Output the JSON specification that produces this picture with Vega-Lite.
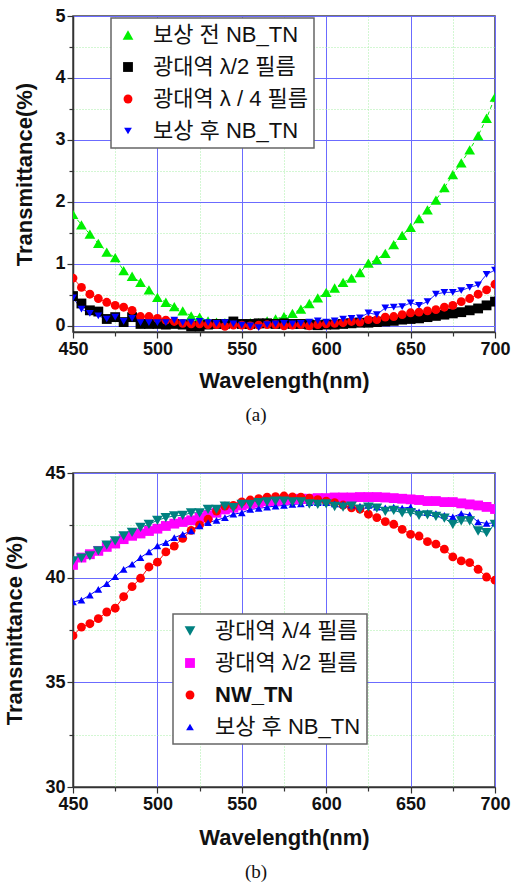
{
  "$schema": "https://vega.github.io/schema/vega-lite/v6.json",
  "background": "white",
  "padding": {"left": 3, "top": 6, "right": 0, "bottom": 0},
  "spacing": 37,
  "resolve": {
    "scale": {"color": "independent", "shape": "independent", "size": "independent", "strokeDash": "independent"},
    "legend": {"color": "independent", "shape": "independent"}
  },
  "config": {
    "font": "Liberation Sans",
    "view": {"stroke": "#444", "strokeWidth": 1.5},
    "axis": {
      "labelFont": "Liberation Sans",
      "labelFontWeight": "bold",
      "labelFontSize": 18,
      "labelColor": "#111",
      "labelPadding": 2,
      "labelFlush": false,
      "titleFont": "Liberation Sans",
      "titleFontWeight": "bold",
      "titleFontSize": 22,
      "titleColor": "#111",
      "domainColor": "#333",
      "domainWidth": 1.5,
      "tickColor": "#333",
      "tickWidth": 1.2,
      "grid": true,
      "gridWidth": 1
    },
    "legend": {
      "orient": "none",
      "labelFont": "Liberation Sans, Noto Sans CJK KR",
      "labelFontSize": 22,
      "labelColor": "#111",
      "labelOffset": 14,
      "symbolSize": 50,
      "symbolStrokeWidth": 0,
      "rowPadding": 10,
      "padding": 6,
      "fillColor": "white",
      "strokeColor": "#666",
      "strokeWidth": 1.5
    },
    "title": {
      "orient": "bottom",
      "font": "Liberation Serif",
      "fontSize": 19,
      "fontWeight": "normal",
      "color": "#111",
      "dx": -28
    }
  },
  "datasets": {
    "panelA": [
      {"series": "보상 전 NB_TN", "nm": 450, "T": 1.80},
      {"series": "보상 전 NB_TN", "nm": 455, "T": 1.63},
      {"series": "보상 전 NB_TN", "nm": 460, "T": 1.48},
      {"series": "보상 전 NB_TN", "nm": 465, "T": 1.33},
      {"series": "보상 전 NB_TN", "nm": 470, "T": 1.19},
      {"series": "보상 전 NB_TN", "nm": 475, "T": 1.10},
      {"series": "보상 전 NB_TN", "nm": 480, "T": 0.89},
      {"series": "보상 전 NB_TN", "nm": 485, "T": 0.80},
      {"series": "보상 전 NB_TN", "nm": 490, "T": 0.70},
      {"series": "보상 전 NB_TN", "nm": 495, "T": 0.58},
      {"series": "보상 전 NB_TN", "nm": 500, "T": 0.46},
      {"series": "보상 전 NB_TN", "nm": 505, "T": 0.38},
      {"series": "보상 전 NB_TN", "nm": 510, "T": 0.31},
      {"series": "보상 전 NB_TN", "nm": 515, "T": 0.24},
      {"series": "보상 전 NB_TN", "nm": 520, "T": 0.16},
      {"series": "보상 전 NB_TN", "nm": 525, "T": 0.14},
      {"series": "보상 전 NB_TN", "nm": 530, "T": 0.08},
      {"series": "보상 전 NB_TN", "nm": 535, "T": 0.06},
      {"series": "보상 전 NB_TN", "nm": 540, "T": 0.05},
      {"series": "보상 전 NB_TN", "nm": 545, "T": 0.04},
      {"series": "보상 전 NB_TN", "nm": 550, "T": 0.04},
      {"series": "보상 전 NB_TN", "nm": 555, "T": 0.05},
      {"series": "보상 전 NB_TN", "nm": 560, "T": 0.05},
      {"series": "보상 전 NB_TN", "nm": 565, "T": 0.08},
      {"series": "보상 전 NB_TN", "nm": 570, "T": 0.11},
      {"series": "보상 전 NB_TN", "nm": 575, "T": 0.15},
      {"series": "보상 전 NB_TN", "nm": 580, "T": 0.20},
      {"series": "보상 전 NB_TN", "nm": 585, "T": 0.27},
      {"series": "보상 전 NB_TN", "nm": 590, "T": 0.36},
      {"series": "보상 전 NB_TN", "nm": 595, "T": 0.45},
      {"series": "보상 전 NB_TN", "nm": 600, "T": 0.54},
      {"series": "보상 전 NB_TN", "nm": 605, "T": 0.61},
      {"series": "보상 전 NB_TN", "nm": 610, "T": 0.70},
      {"series": "보상 전 NB_TN", "nm": 615, "T": 0.77},
      {"series": "보상 전 NB_TN", "nm": 620, "T": 0.86},
      {"series": "보상 전 NB_TN", "nm": 625, "T": 1.01},
      {"series": "보상 전 NB_TN", "nm": 630, "T": 1.07},
      {"series": "보상 전 NB_TN", "nm": 635, "T": 1.17},
      {"series": "보상 전 NB_TN", "nm": 640, "T": 1.31},
      {"series": "보상 전 NB_TN", "nm": 645, "T": 1.46},
      {"series": "보상 전 NB_TN", "nm": 650, "T": 1.59},
      {"series": "보상 전 NB_TN", "nm": 655, "T": 1.73},
      {"series": "보상 전 NB_TN", "nm": 660, "T": 1.87},
      {"series": "보상 전 NB_TN", "nm": 665, "T": 2.03},
      {"series": "보상 전 NB_TN", "nm": 670, "T": 2.23},
      {"series": "보상 전 NB_TN", "nm": 675, "T": 2.44},
      {"series": "보상 전 NB_TN", "nm": 680, "T": 2.63},
      {"series": "보상 전 NB_TN", "nm": 685, "T": 2.84},
      {"series": "보상 전 NB_TN", "nm": 690, "T": 3.07},
      {"series": "보상 전 NB_TN", "nm": 695, "T": 3.35},
      {"series": "보상 전 NB_TN", "nm": 700, "T": 3.69},
      {"series": "광대역 λ/2 필름", "nm": 450, "T": 0.48},
      {"series": "광대역 λ/2 필름", "nm": 455, "T": 0.36},
      {"series": "광대역 λ/2 필름", "nm": 460, "T": 0.25},
      {"series": "광대역 λ/2 필름", "nm": 465, "T": 0.23},
      {"series": "광대역 λ/2 필름", "nm": 470, "T": 0.11},
      {"series": "광대역 λ/2 필름", "nm": 475, "T": 0.14},
      {"series": "광대역 λ/2 필름", "nm": 480, "T": 0.06},
      {"series": "광대역 λ/2 필름", "nm": 485, "T": 0.14},
      {"series": "광대역 λ/2 필름", "nm": 490, "T": 0.03},
      {"series": "광대역 λ/2 필름", "nm": 495, "T": 0.03},
      {"series": "광대역 λ/2 필름", "nm": 500, "T": 0.03},
      {"series": "광대역 λ/2 필름", "nm": 505, "T": 0.02},
      {"series": "광대역 λ/2 필름", "nm": 510, "T": 0.03},
      {"series": "광대역 λ/2 필름", "nm": 515, "T": 0.02},
      {"series": "광대역 λ/2 필름", "nm": 520, "T": -0.01},
      {"series": "광대역 λ/2 필름", "nm": 525, "T": -0.01},
      {"series": "광대역 λ/2 필름", "nm": 530, "T": 0.02},
      {"series": "광대역 λ/2 필름", "nm": 535, "T": 0.03},
      {"series": "광대역 λ/2 필름", "nm": 540, "T": 0.03},
      {"series": "광대역 λ/2 필름", "nm": 545, "T": 0.07},
      {"series": "광대역 λ/2 필름", "nm": 550, "T": 0.03},
      {"series": "광대역 λ/2 필름", "nm": 555, "T": 0.03},
      {"series": "광대역 λ/2 필름", "nm": 560, "T": 0.04},
      {"series": "광대역 λ/2 필름", "nm": 565, "T": 0.04},
      {"series": "광대역 λ/2 필름", "nm": 570, "T": 0.03},
      {"series": "광대역 λ/2 필름", "nm": 575, "T": 0.04},
      {"series": "광대역 λ/2 필름", "nm": 580, "T": 0.03},
      {"series": "광대역 λ/2 필름", "nm": 585, "T": 0.03},
      {"series": "광대역 λ/2 필름", "nm": 590, "T": 0.02},
      {"series": "광대역 λ/2 필름", "nm": 595, "T": 0.01},
      {"series": "광대역 λ/2 필름", "nm": 600, "T": 0.02},
      {"series": "광대역 λ/2 필름", "nm": 605, "T": 0.02},
      {"series": "광대역 λ/2 필름", "nm": 610, "T": 0.03},
      {"series": "광대역 λ/2 필름", "nm": 615, "T": 0.04},
      {"series": "광대역 λ/2 필름", "nm": 620, "T": 0.05},
      {"series": "광대역 λ/2 필름", "nm": 625, "T": 0.05},
      {"series": "광대역 λ/2 필름", "nm": 630, "T": 0.06},
      {"series": "광대역 λ/2 필름", "nm": 635, "T": 0.07},
      {"series": "광대역 λ/2 필름", "nm": 640, "T": 0.08},
      {"series": "광대역 λ/2 필름", "nm": 645, "T": 0.10},
      {"series": "광대역 λ/2 필름", "nm": 650, "T": 0.11},
      {"series": "광대역 λ/2 필름", "nm": 655, "T": 0.12},
      {"series": "광대역 λ/2 필름", "nm": 660, "T": 0.14},
      {"series": "광대역 λ/2 필름", "nm": 665, "T": 0.16},
      {"series": "광대역 λ/2 필름", "nm": 670, "T": 0.18},
      {"series": "광대역 λ/2 필름", "nm": 675, "T": 0.20},
      {"series": "광대역 λ/2 필름", "nm": 680, "T": 0.22},
      {"series": "광대역 λ/2 필름", "nm": 685, "T": 0.25},
      {"series": "광대역 λ/2 필름", "nm": 690, "T": 0.28},
      {"series": "광대역 λ/2 필름", "nm": 695, "T": 0.33},
      {"series": "광대역 λ/2 필름", "nm": 700, "T": 0.39},
      {"series": "광대역 λ / 4 필름", "nm": 450, "T": 0.77},
      {"series": "광대역 λ / 4 필름", "nm": 455, "T": 0.62},
      {"series": "광대역 λ / 4 필름", "nm": 460, "T": 0.51},
      {"series": "광대역 λ / 4 필름", "nm": 465, "T": 0.44},
      {"series": "광대역 λ / 4 필름", "nm": 470, "T": 0.38},
      {"series": "광대역 λ / 4 필름", "nm": 475, "T": 0.33},
      {"series": "광대역 λ / 4 필름", "nm": 480, "T": 0.30},
      {"series": "광대역 λ / 4 필름", "nm": 485, "T": 0.25},
      {"series": "광대역 λ / 4 필름", "nm": 490, "T": 0.15},
      {"series": "광대역 λ / 4 필름", "nm": 495, "T": 0.15},
      {"series": "광대역 λ / 4 필름", "nm": 500, "T": 0.12},
      {"series": "광대역 λ / 4 필름", "nm": 505, "T": 0.09},
      {"series": "광대역 λ / 4 필름", "nm": 510, "T": 0.07},
      {"series": "광대역 λ / 4 필름", "nm": 515, "T": 0.04},
      {"series": "광대역 λ / 4 필름", "nm": 520, "T": 0.03},
      {"series": "광대역 λ / 4 필름", "nm": 525, "T": 0.03},
      {"series": "광대역 λ / 4 필름", "nm": 530, "T": 0.02},
      {"series": "광대역 λ / 4 필름", "nm": 535, "T": 0.02},
      {"series": "광대역 λ / 4 필름", "nm": 540, "T": -0.01},
      {"series": "광대역 λ / 4 필름", "nm": 545, "T": 0.01},
      {"series": "광대역 λ / 4 필름", "nm": 550, "T": 0.01},
      {"series": "광대역 λ / 4 필름", "nm": 555, "T": 0.00},
      {"series": "광대역 λ / 4 필름", "nm": 560, "T": 0.01},
      {"series": "광대역 λ / 4 필름", "nm": 565, "T": 0.02},
      {"series": "광대역 λ / 4 필름", "nm": 570, "T": 0.02},
      {"series": "광대역 λ / 4 필름", "nm": 575, "T": 0.00},
      {"series": "광대역 λ / 4 필름", "nm": 580, "T": 0.01},
      {"series": "광대역 λ / 4 필름", "nm": 585, "T": 0.02},
      {"series": "광대역 λ / 4 필름", "nm": 590, "T": 0.00},
      {"series": "광대역 λ / 4 필름", "nm": 595, "T": 0.02},
      {"series": "광대역 λ / 4 필름", "nm": 600, "T": 0.03},
      {"series": "광대역 λ / 4 필름", "nm": 605, "T": 0.04},
      {"series": "광대역 λ / 4 필름", "nm": 610, "T": 0.05},
      {"series": "광대역 λ / 4 필름", "nm": 615, "T": 0.07},
      {"series": "광대역 λ / 4 필름", "nm": 620, "T": 0.06},
      {"series": "광대역 λ / 4 필름", "nm": 625, "T": 0.10},
      {"series": "광대역 λ / 4 필름", "nm": 630, "T": 0.10},
      {"series": "광대역 λ / 4 필름", "nm": 635, "T": 0.14},
      {"series": "광대역 λ / 4 필름", "nm": 640, "T": 0.15},
      {"series": "광대역 λ / 4 필름", "nm": 645, "T": 0.18},
      {"series": "광대역 λ / 4 필름", "nm": 650, "T": 0.21},
      {"series": "광대역 λ / 4 필름", "nm": 655, "T": 0.22},
      {"series": "광대역 λ / 4 필름", "nm": 660, "T": 0.24},
      {"series": "광대역 λ / 4 필름", "nm": 665, "T": 0.26},
      {"series": "광대역 λ / 4 필름", "nm": 670, "T": 0.30},
      {"series": "광대역 λ / 4 필름", "nm": 675, "T": 0.33},
      {"series": "광대역 λ / 4 필름", "nm": 680, "T": 0.39},
      {"series": "광대역 λ / 4 필름", "nm": 685, "T": 0.44},
      {"series": "광대역 λ / 4 필름", "nm": 690, "T": 0.51},
      {"series": "광대역 λ / 4 필름", "nm": 695, "T": 0.58},
      {"series": "광대역 λ / 4 필름", "nm": 700, "T": 0.67},
      {"series": "보상 후 NB_TN", "nm": 450, "T": 0.45},
      {"series": "보상 후 NB_TN", "nm": 455, "T": 0.27},
      {"series": "보상 후 NB_TN", "nm": 460, "T": 0.20},
      {"series": "보상 후 NB_TN", "nm": 465, "T": 0.16},
      {"series": "보상 후 NB_TN", "nm": 470, "T": 0.11},
      {"series": "보상 후 NB_TN", "nm": 475, "T": 0.14},
      {"series": "보상 후 NB_TN", "nm": 480, "T": 0.07},
      {"series": "보상 후 NB_TN", "nm": 485, "T": 0.12},
      {"series": "보상 후 NB_TN", "nm": 490, "T": 0.05},
      {"series": "보상 후 NB_TN", "nm": 495, "T": 0.05},
      {"series": "보상 후 NB_TN", "nm": 500, "T": 0.05},
      {"series": "보상 후 NB_TN", "nm": 505, "T": 0.05},
      {"series": "보상 후 NB_TN", "nm": 510, "T": 0.09},
      {"series": "보상 후 NB_TN", "nm": 515, "T": 0.05},
      {"series": "보상 후 NB_TN", "nm": 520, "T": 0.06},
      {"series": "보상 후 NB_TN", "nm": 525, "T": 0.07},
      {"series": "보상 후 NB_TN", "nm": 530, "T": 0.05},
      {"series": "보상 후 NB_TN", "nm": 535, "T": 0.04},
      {"series": "보상 후 NB_TN", "nm": 540, "T": 0.05},
      {"series": "보상 후 NB_TN", "nm": 545, "T": 0.03},
      {"series": "보상 후 NB_TN", "nm": 550, "T": 0.01},
      {"series": "보상 후 NB_TN", "nm": 555, "T": 0.00},
      {"series": "보상 후 NB_TN", "nm": 560, "T": -0.03},
      {"series": "보상 후 NB_TN", "nm": 565, "T": 0.02},
      {"series": "보상 후 NB_TN", "nm": 570, "T": 0.03},
      {"series": "보상 후 NB_TN", "nm": 575, "T": 0.04},
      {"series": "보상 후 NB_TN", "nm": 580, "T": 0.03},
      {"series": "보상 후 NB_TN", "nm": 585, "T": 0.04},
      {"series": "보상 후 NB_TN", "nm": 590, "T": 0.06},
      {"series": "보상 후 NB_TN", "nm": 595, "T": 0.08},
      {"series": "보상 후 NB_TN", "nm": 600, "T": 0.06},
      {"series": "보상 후 NB_TN", "nm": 605, "T": 0.08},
      {"series": "보상 후 NB_TN", "nm": 610, "T": 0.11},
      {"series": "보상 후 NB_TN", "nm": 615, "T": 0.12},
      {"series": "보상 후 NB_TN", "nm": 620, "T": 0.13},
      {"series": "보상 후 NB_TN", "nm": 625, "T": 0.21},
      {"series": "보상 후 NB_TN", "nm": 630, "T": 0.18},
      {"series": "보상 후 NB_TN", "nm": 635, "T": 0.29},
      {"series": "보상 후 NB_TN", "nm": 640, "T": 0.30},
      {"series": "보상 후 NB_TN", "nm": 645, "T": 0.31},
      {"series": "보상 후 NB_TN", "nm": 650, "T": 0.37},
      {"series": "보상 후 NB_TN", "nm": 655, "T": 0.33},
      {"series": "보상 후 NB_TN", "nm": 660, "T": 0.39},
      {"series": "보상 후 NB_TN", "nm": 665, "T": 0.51},
      {"series": "보상 후 NB_TN", "nm": 670, "T": 0.54},
      {"series": "보상 후 NB_TN", "nm": 675, "T": 0.54},
      {"series": "보상 후 NB_TN", "nm": 680, "T": 0.57},
      {"series": "보상 후 NB_TN", "nm": 685, "T": 0.62},
      {"series": "보상 후 NB_TN", "nm": 690, "T": 0.66},
      {"series": "보상 후 NB_TN", "nm": 695, "T": 0.83},
      {"series": "보상 후 NB_TN", "nm": 700, "T": 0.90}
    ],
    "panelB": [
      {"series": "광대역 λ/2 필름", "nm": 450, "T": 40.61},
      {"series": "광대역 λ/2 필름", "nm": 455, "T": 40.96},
      {"series": "광대역 λ/2 필름", "nm": 460, "T": 41.12},
      {"series": "광대역 λ/2 필름", "nm": 465, "T": 41.28},
      {"series": "광대역 λ/2 필름", "nm": 470, "T": 41.47},
      {"series": "광대역 λ/2 필름", "nm": 475, "T": 41.63},
      {"series": "광대역 λ/2 필름", "nm": 480, "T": 41.84},
      {"series": "광대역 λ/2 필름", "nm": 485, "T": 42.00},
      {"series": "광대역 λ/2 필름", "nm": 490, "T": 42.11},
      {"series": "광대역 λ/2 필름", "nm": 495, "T": 42.23},
      {"series": "광대역 λ/2 필름", "nm": 500, "T": 42.34},
      {"series": "광대역 λ/2 필름", "nm": 505, "T": 42.47},
      {"series": "광대역 λ/2 필름", "nm": 510, "T": 42.58},
      {"series": "광대역 λ/2 필름", "nm": 515, "T": 42.66},
      {"series": "광대역 λ/2 필름", "nm": 520, "T": 42.74},
      {"series": "광대역 λ/2 필름", "nm": 525, "T": 42.87},
      {"series": "광대역 λ/2 필름", "nm": 530, "T": 42.98},
      {"series": "광대역 λ/2 필름", "nm": 535, "T": 43.10},
      {"series": "광대역 λ/2 필름", "nm": 540, "T": 43.26},
      {"series": "광대역 λ/2 필름", "nm": 545, "T": 43.34},
      {"series": "광대역 λ/2 필름", "nm": 550, "T": 43.45},
      {"series": "광대역 λ/2 필름", "nm": 555, "T": 43.53},
      {"series": "광대역 λ/2 필름", "nm": 560, "T": 43.58},
      {"series": "광대역 λ/2 필름", "nm": 565, "T": 43.66},
      {"series": "광대역 λ/2 필름", "nm": 570, "T": 43.66},
      {"series": "광대역 λ/2 필름", "nm": 575, "T": 43.71},
      {"series": "광대역 λ/2 필름", "nm": 580, "T": 43.74},
      {"series": "광대역 λ/2 필름", "nm": 585, "T": 43.77},
      {"series": "광대역 λ/2 필름", "nm": 590, "T": 43.77},
      {"series": "광대역 λ/2 필름", "nm": 595, "T": 43.80},
      {"series": "광대역 λ/2 필름", "nm": 600, "T": 43.80},
      {"series": "광대역 λ/2 필름", "nm": 605, "T": 43.83},
      {"series": "광대역 λ/2 필름", "nm": 610, "T": 43.83},
      {"series": "광대역 λ/2 필름", "nm": 615, "T": 43.83},
      {"series": "광대역 λ/2 필름", "nm": 620, "T": 43.85},
      {"series": "광대역 λ/2 필름", "nm": 625, "T": 43.85},
      {"series": "광대역 λ/2 필름", "nm": 630, "T": 43.85},
      {"series": "광대역 λ/2 필름", "nm": 635, "T": 43.83},
      {"series": "광대역 λ/2 필름", "nm": 640, "T": 43.80},
      {"series": "광대역 λ/2 필름", "nm": 645, "T": 43.77},
      {"series": "광대역 λ/2 필름", "nm": 650, "T": 43.74},
      {"series": "광대역 λ/2 필름", "nm": 655, "T": 43.71},
      {"series": "광대역 λ/2 필름", "nm": 660, "T": 43.66},
      {"series": "광대역 λ/2 필름", "nm": 665, "T": 43.66},
      {"series": "광대역 λ/2 필름", "nm": 670, "T": 43.61},
      {"series": "광대역 λ/2 필름", "nm": 675, "T": 43.61},
      {"series": "광대역 λ/2 필름", "nm": 680, "T": 43.55},
      {"series": "광대역 λ/2 필름", "nm": 685, "T": 43.50},
      {"series": "광대역 λ/2 필름", "nm": 690, "T": 43.45},
      {"series": "광대역 λ/2 필름", "nm": 695, "T": 43.38},
      {"series": "광대역 λ/2 필름", "nm": 700, "T": 43.28},
      {"series": "NW_TN", "nm": 450, "T": 37.23},
      {"series": "NW_TN", "nm": 455, "T": 37.64},
      {"series": "NW_TN", "nm": 460, "T": 37.80},
      {"series": "NW_TN", "nm": 465, "T": 38.04},
      {"series": "NW_TN", "nm": 470, "T": 38.36},
      {"series": "NW_TN", "nm": 475, "T": 38.54},
      {"series": "NW_TN", "nm": 480, "T": 39.09},
      {"series": "NW_TN", "nm": 485, "T": 39.57},
      {"series": "NW_TN", "nm": 490, "T": 39.97},
      {"series": "NW_TN", "nm": 495, "T": 40.51},
      {"series": "NW_TN", "nm": 500, "T": 40.74},
      {"series": "NW_TN", "nm": 505, "T": 41.23},
      {"series": "NW_TN", "nm": 510, "T": 41.51},
      {"series": "NW_TN", "nm": 515, "T": 41.88},
      {"series": "NW_TN", "nm": 520, "T": 42.26},
      {"series": "NW_TN", "nm": 525, "T": 42.52},
      {"series": "NW_TN", "nm": 530, "T": 42.79},
      {"series": "NW_TN", "nm": 535, "T": 43.18},
      {"series": "NW_TN", "nm": 540, "T": 43.42},
      {"series": "NW_TN", "nm": 545, "T": 43.45},
      {"series": "NW_TN", "nm": 550, "T": 43.62},
      {"series": "NW_TN", "nm": 555, "T": 43.71},
      {"series": "NW_TN", "nm": 560, "T": 43.77},
      {"series": "NW_TN", "nm": 565, "T": 43.85},
      {"series": "NW_TN", "nm": 570, "T": 43.87},
      {"series": "NW_TN", "nm": 575, "T": 43.90},
      {"series": "NW_TN", "nm": 580, "T": 43.86},
      {"series": "NW_TN", "nm": 585, "T": 43.85},
      {"series": "NW_TN", "nm": 590, "T": 43.80},
      {"series": "NW_TN", "nm": 595, "T": 43.73},
      {"series": "NW_TN", "nm": 600, "T": 43.66},
      {"series": "NW_TN", "nm": 605, "T": 43.58},
      {"series": "NW_TN", "nm": 610, "T": 43.47},
      {"series": "NW_TN", "nm": 615, "T": 43.34},
      {"series": "NW_TN", "nm": 620, "T": 43.27},
      {"series": "NW_TN", "nm": 625, "T": 43.03},
      {"series": "NW_TN", "nm": 630, "T": 42.87},
      {"series": "NW_TN", "nm": 635, "T": 42.68},
      {"series": "NW_TN", "nm": 640, "T": 42.55},
      {"series": "NW_TN", "nm": 645, "T": 42.31},
      {"series": "NW_TN", "nm": 650, "T": 42.07},
      {"series": "NW_TN", "nm": 655, "T": 41.99},
      {"series": "NW_TN", "nm": 660, "T": 41.72},
      {"series": "NW_TN", "nm": 665, "T": 41.60},
      {"series": "NW_TN", "nm": 670, "T": 41.36},
      {"series": "NW_TN", "nm": 675, "T": 40.99},
      {"series": "NW_TN", "nm": 680, "T": 40.80},
      {"series": "NW_TN", "nm": 685, "T": 40.72},
      {"series": "NW_TN", "nm": 690, "T": 40.40},
      {"series": "NW_TN", "nm": 695, "T": 40.03},
      {"series": "NW_TN", "nm": 700, "T": 39.88},
      {"series": "보상 후 NB_TN", "nm": 450, "T": 38.84},
      {"series": "보상 후 NB_TN", "nm": 455, "T": 38.93},
      {"series": "보상 후 NB_TN", "nm": 460, "T": 39.17},
      {"series": "보상 후 NB_TN", "nm": 465, "T": 39.44},
      {"series": "보상 후 NB_TN", "nm": 470, "T": 39.71},
      {"series": "보상 후 NB_TN", "nm": 475, "T": 40.05},
      {"series": "보상 후 NB_TN", "nm": 480, "T": 40.40},
      {"series": "보상 후 NB_TN", "nm": 485, "T": 40.64},
      {"series": "보상 후 NB_TN", "nm": 490, "T": 40.96},
      {"series": "보상 후 NB_TN", "nm": 495, "T": 41.23},
      {"series": "보상 후 NB_TN", "nm": 500, "T": 41.52},
      {"series": "보상 후 NB_TN", "nm": 505, "T": 41.67},
      {"series": "보상 후 NB_TN", "nm": 510, "T": 41.91},
      {"series": "보상 후 NB_TN", "nm": 515, "T": 42.07},
      {"series": "보상 후 NB_TN", "nm": 520, "T": 42.23},
      {"series": "보상 후 NB_TN", "nm": 525, "T": 42.47},
      {"series": "보상 후 NB_TN", "nm": 530, "T": 42.63},
      {"series": "보상 후 NB_TN", "nm": 535, "T": 42.74},
      {"series": "보상 후 NB_TN", "nm": 540, "T": 42.87},
      {"series": "보상 후 NB_TN", "nm": 545, "T": 43.03},
      {"series": "보상 후 NB_TN", "nm": 550, "T": 43.10},
      {"series": "보상 후 NB_TN", "nm": 555, "T": 43.26},
      {"series": "보상 후 NB_TN", "nm": 560, "T": 43.31},
      {"series": "보상 후 NB_TN", "nm": 565, "T": 43.37},
      {"series": "보상 후 NB_TN", "nm": 570, "T": 43.42},
      {"series": "보상 후 NB_TN", "nm": 575, "T": 43.45},
      {"series": "보상 후 NB_TN", "nm": 580, "T": 43.50},
      {"series": "보상 후 NB_TN", "nm": 585, "T": 43.53},
      {"series": "보상 후 NB_TN", "nm": 590, "T": 43.58},
      {"series": "보상 후 NB_TN", "nm": 595, "T": 43.58},
      {"series": "보상 후 NB_TN", "nm": 600, "T": 43.58},
      {"series": "보상 후 NB_TN", "nm": 605, "T": 43.53},
      {"series": "보상 후 NB_TN", "nm": 610, "T": 43.50},
      {"series": "보상 후 NB_TN", "nm": 615, "T": 43.47},
      {"series": "보상 후 NB_TN", "nm": 620, "T": 43.42},
      {"series": "보상 후 NB_TN", "nm": 625, "T": 43.45},
      {"series": "보상 후 NB_TN", "nm": 630, "T": 43.37},
      {"series": "보상 후 NB_TN", "nm": 635, "T": 43.34},
      {"series": "보상 후 NB_TN", "nm": 640, "T": 43.37},
      {"series": "보상 후 NB_TN", "nm": 645, "T": 43.32},
      {"series": "보상 후 NB_TN", "nm": 650, "T": 43.37},
      {"series": "보상 후 NB_TN", "nm": 655, "T": 43.14},
      {"series": "보상 후 NB_TN", "nm": 660, "T": 43.11},
      {"series": "보상 후 NB_TN", "nm": 665, "T": 43.06},
      {"series": "보상 후 NB_TN", "nm": 670, "T": 42.98},
      {"series": "보상 후 NB_TN", "nm": 675, "T": 42.90},
      {"series": "보상 후 NB_TN", "nm": 680, "T": 43.06},
      {"series": "보상 후 NB_TN", "nm": 685, "T": 43.00},
      {"series": "보상 후 NB_TN", "nm": 690, "T": 42.66},
      {"series": "보상 후 NB_TN", "nm": 695, "T": 42.59},
      {"series": "보상 후 NB_TN", "nm": 700, "T": 42.62},
      {"series": "광대역 λ/4 필름", "nm": 450, "T": 40.80},
      {"series": "광대역 λ/4 필름", "nm": 455, "T": 40.93},
      {"series": "광대역 λ/4 필름", "nm": 460, "T": 41.04},
      {"series": "광대역 λ/4 필름", "nm": 465, "T": 41.28},
      {"series": "광대역 λ/4 필름", "nm": 470, "T": 41.55},
      {"series": "광대역 λ/4 필름", "nm": 475, "T": 41.76},
      {"series": "광대역 λ/4 필름", "nm": 480, "T": 42.00},
      {"series": "광대역 λ/4 필름", "nm": 485, "T": 42.16},
      {"series": "광대역 λ/4 필름", "nm": 490, "T": 42.40},
      {"series": "광대역 λ/4 필름", "nm": 495, "T": 42.55},
      {"series": "광대역 λ/4 필름", "nm": 500, "T": 42.74},
      {"series": "광대역 λ/4 필름", "nm": 505, "T": 42.87},
      {"series": "광대역 λ/4 필름", "nm": 510, "T": 42.95},
      {"series": "광대역 λ/4 필름", "nm": 515, "T": 42.98},
      {"series": "광대역 λ/4 필름", "nm": 520, "T": 43.10},
      {"series": "광대역 λ/4 필름", "nm": 525, "T": 43.10},
      {"series": "광대역 λ/4 필름", "nm": 530, "T": 43.26},
      {"series": "광대역 λ/4 필름", "nm": 535, "T": 43.26},
      {"series": "광대역 λ/4 필름", "nm": 540, "T": 43.42},
      {"series": "광대역 λ/4 필름", "nm": 545, "T": 43.34},
      {"series": "광대역 λ/4 필름", "nm": 550, "T": 43.50},
      {"series": "광대역 λ/4 필름", "nm": 555, "T": 43.50},
      {"series": "광대역 λ/4 필름", "nm": 560, "T": 43.58},
      {"series": "광대역 λ/4 필름", "nm": 565, "T": 43.62},
      {"series": "광대역 λ/4 필름", "nm": 570, "T": 43.66},
      {"series": "광대역 λ/4 필름", "nm": 575, "T": 43.66},
      {"series": "광대역 λ/4 필름", "nm": 580, "T": 43.62},
      {"series": "광대역 λ/4 필름", "nm": 585, "T": 43.62},
      {"series": "광대역 λ/4 필름", "nm": 590, "T": 43.52},
      {"series": "광대역 λ/4 필름", "nm": 595, "T": 43.50},
      {"series": "광대역 λ/4 필름", "nm": 600, "T": 43.53},
      {"series": "광대역 λ/4 필름", "nm": 605, "T": 43.40},
      {"series": "광대역 λ/4 필름", "nm": 610, "T": 43.37},
      {"series": "광대역 λ/4 필름", "nm": 615, "T": 43.42},
      {"series": "광대역 λ/4 필름", "nm": 620, "T": 43.27},
      {"series": "광대역 λ/4 필름", "nm": 625, "T": 43.37},
      {"series": "광대역 λ/4 필름", "nm": 630, "T": 43.32},
      {"series": "광대역 λ/4 필름", "nm": 635, "T": 43.17},
      {"series": "광대역 λ/4 필름", "nm": 640, "T": 43.21},
      {"series": "광대역 λ/4 필름", "nm": 645, "T": 43.10},
      {"series": "광대역 λ/4 필름", "nm": 650, "T": 43.11},
      {"series": "광대역 λ/4 필름", "nm": 655, "T": 42.98},
      {"series": "광대역 λ/4 필름", "nm": 660, "T": 43.00},
      {"series": "광대역 λ/4 필름", "nm": 665, "T": 42.93},
      {"series": "광대역 λ/4 필름", "nm": 670, "T": 42.84},
      {"series": "광대역 λ/4 필름", "nm": 675, "T": 42.55},
      {"series": "광대역 λ/4 필름", "nm": 680, "T": 42.71},
      {"series": "광대역 λ/4 필름", "nm": 685, "T": 42.71},
      {"series": "광대역 λ/4 필름", "nm": 690, "T": 42.23},
      {"series": "광대역 λ/4 필름", "nm": 695, "T": 42.15},
      {"series": "광대역 λ/4 필름", "nm": 700, "T": 42.55}
    ]
  },
  "vconcat": [
    {
      "width": 422,
      "height": 316,
      "title": {"text": "(a)", "offset": 15},
      "data": {"name": "panelA"},
      "encoding": {
        "x": {
          "field": "nm",
          "type": "quantitative",
          "scale": {"domain": [450, 700], "nice": false, "zero": false},
          "axis": {
            "title": "Wavelength(nm)",
            "titlePadding": 12,
            "values": [450, 475, 500, 525, 550, 575, 600, 625, 650, 675, 700],
            "labelExpr": "datum.value % 50 === 0 ? datum.value + '' : ''",
            "tickSize": {"condition": {"test": "datum.value % 50 === 0", "value": 6}, "value": 4},
            "gridColor": {"condition": {"test": "datum.value % 50 === 0", "value": "#6b6bff"}, "value": "#a6eea6"},
            "gridDash": {"condition": {"test": "datum.value % 50 === 0", "value": []}, "value": [1, 2]}
          }
        },
        "y": {
          "field": "T",
          "type": "quantitative",
          "scale": {"domain": [-0.1, 5], "nice": false, "zero": false},
          "axis": {
            "title": "Transmittance(%)",
            "titlePadding": 18,
            "values": [0, 0.5, 1, 1.5, 2, 2.5, 3, 3.5, 4, 4.5, 5],
            "labelExpr": "datum.value % 1 === 0 ? datum.value + '' : ''",
            "tickSize": {"condition": {"test": "datum.value % 1 === 0", "value": 6}, "value": 4},
            "gridColor": {"condition": {"test": "datum.value % 1 === 0", "value": "#6b6bff"}, "value": "#a6eea6"},
            "gridDash": {"condition": {"test": "datum.value % 1 === 0", "value": []}, "value": [1, 2]}
          }
        },
        "color": {
          "field": "series",
          "type": "nominal",
          "sort": null,
          "scale": {
            "domain": ["보상 전 NB_TN", "광대역 λ/2 필름", "광대역 λ / 4 필름", "보상 후 NB_TN"],
            "range": ["#00f000", "#000000", "#ff0000", "#0000ff"]
          },
          "legend": {"title": null, "legendX": 38, "legendY": 2}
        }
      },
      "layer": [
        {
          "mark": {"type": "line", "strokeWidth": 1, "clip": true},
          "encoding": {
            "strokeDash": {
              "field": "series",
              "type": "nominal",
              "scale": {
                "domain": ["보상 전 NB_TN", "광대역 λ/2 필름", "광대역 λ / 4 필름", "보상 후 NB_TN"],
                "range": [[4, 3], [1, 0], [1, 0], [1, 0]]
              },
              "legend": null
            }
          }
        },
        {
          "mark": {"type": "point", "filled": true, "opacity": 1, "clip": true},
          "encoding": {
            "shape": {
              "field": "series",
              "type": "nominal",
              "scale": {
                "domain": ["보상 전 NB_TN", "광대역 λ/2 필름", "광대역 λ / 4 필름", "보상 후 NB_TN"],
                "range": ["triangle-up", "square", "circle", "triangle-down"]
              },
              "legend": {"title": null, "legendX": 38, "legendY": 2}
            },
            "size": {
              "field": "series",
              "type": "nominal",
              "scale": {
                "domain": ["보상 전 NB_TN", "광대역 λ/2 필름", "광대역 λ / 4 필름", "보상 후 NB_TN"],
                "range": [115, 60, 95, 115]
              },
              "legend": null
            }
          }
        }
      ]
    },
    {
      "width": 422,
      "height": 314,
      "title": {"text": "(b)", "offset": 15},
      "data": {"name": "panelB"},
      "encoding": {
        "x": {
          "field": "nm",
          "type": "quantitative",
          "scale": {"domain": [450, 700], "nice": false, "zero": false},
          "axis": {
            "title": "Wavelength(nm)",
            "titlePadding": 14,
            "values": [450, 475, 500, 525, 550, 575, 600, 625, 650, 675, 700],
            "labelExpr": "datum.value % 50 === 0 ? datum.value + '' : ''",
            "tickSize": {"condition": {"test": "datum.value % 50 === 0", "value": 6}, "value": 4},
            "gridColor": {"condition": {"test": "datum.value % 50 === 0", "value": "#6b6bff"}, "value": "#a6eea6"},
            "gridDash": {"condition": {"test": "datum.value % 50 === 0", "value": []}, "value": [1, 2]}
          }
        },
        "y": {
          "field": "T",
          "type": "quantitative",
          "scale": {"domain": [30, 45], "nice": false, "zero": false},
          "axis": {
            "title": "Transmittance (%)",
            "titlePadding": 18,
            "values": [30, 32.5, 35, 37.5, 40, 42.5, 45],
            "labelExpr": "datum.value % 5 === 0 ? datum.value + '' : ''",
            "tickSize": {"condition": {"test": "datum.value % 5 === 0", "value": 6}, "value": 4},
            "gridColor": {"condition": {"test": "datum.value % 5 === 0", "value": "#6b6bff"}, "value": "#a6eea6"},
            "gridDash": {"condition": {"test": "datum.value % 5 === 0", "value": []}, "value": [1, 2]}
          }
        },
        "color": {
          "field": "series",
          "type": "nominal",
          "sort": null,
          "scale": {
            "domain": ["광대역 λ/4 필름", "광대역 λ/2 필름", "NW_TN", "보상 후 NB_TN"],
            "range": ["#008080", "#ff00ff", "#ff0000", "#0000ff"]
          },
          "legend": {
            "title": null,
            "legendX": 100,
            "legendY": 141,
            "encode": {"labels": {"update": {"fontWeight": {"signal": "datum.label === 'NW_TN' ? 'bold' : 'normal'"}}}}
          }
        }
      },
      "layer": [
        {
          "mark": {"type": "line", "strokeWidth": 1, "clip": true}
        },
        {
          "mark": {"type": "point", "filled": true, "opacity": 1, "clip": true},
          "encoding": {
            "shape": {
              "field": "series",
              "type": "nominal",
              "scale": {
                "domain": ["광대역 λ/4 필름", "광대역 λ/2 필름", "NW_TN", "보상 후 NB_TN"],
                "range": ["triangle-down", "square", "circle", "triangle-up"]
              },
              "legend": {
                "title": null,
                "legendX": 100,
                "legendY": 141,
                "encode": {"labels": {"update": {"fontWeight": {"signal": "datum.label === 'NW_TN' ? 'bold' : 'normal'"}}}}
              }
            },
            "size": {
              "field": "series",
              "type": "nominal",
              "scale": {
                "domain": ["광대역 λ/4 필름", "광대역 λ/2 필름", "NW_TN", "보상 후 NB_TN"],
                "range": [115, 60, 95, 115]
              },
              "legend": null
            }
          }
        }
      ]
    }
  ]
}
